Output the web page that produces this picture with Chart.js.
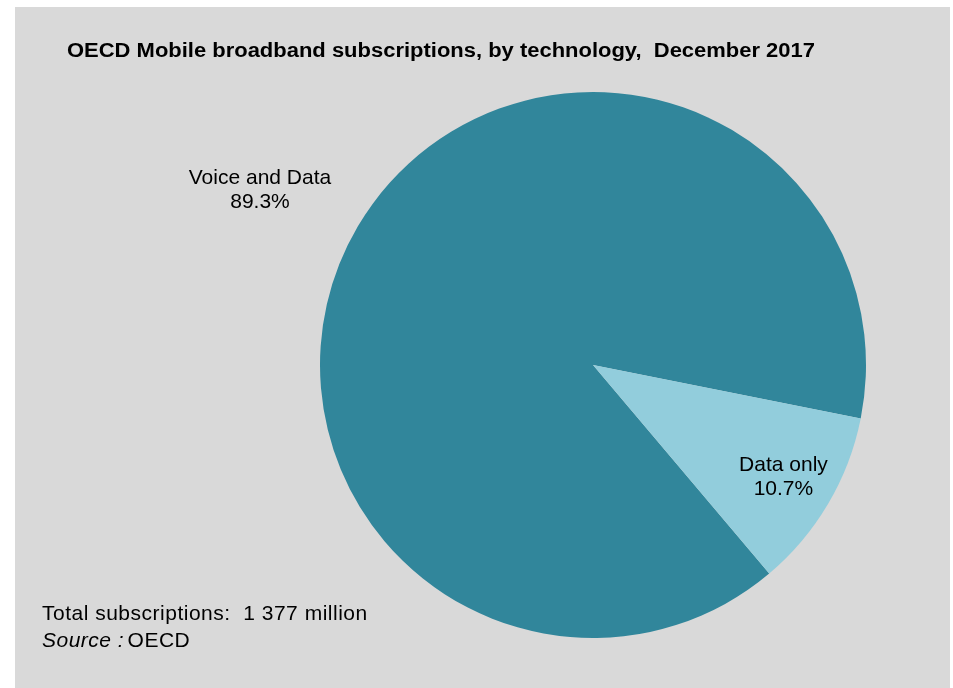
<!DOCTYPE html>
<html>
<head>
<meta charset="utf-8">
<script src="https://cdn.jsdelivr.net/npm/chart.js@4"></script>
<style>
  html, body { margin: 0; padding: 0; background: #fff; }
  #wrap { width: 953px; height: 688px; position: relative; }
</style>
</head>
<body>
<div id="wrap"><canvas id="chart-area" width="953" height="688"></canvas></div>
<script>
var categories = ["Voice and Data", "Data only"];
var shares = [89.3, 10.7];
var sliceColors = ["#31869B", "#92CDDC"];
var titleText = "OECD Mobile broadband subscriptions, by technology,  December 2017";
var noteText = "Total subscriptions:  1 377 million";

// radial position of each label (fraction of radius) and small angular nudge in degrees
var labelRadius = [1.377, 0.81];
var labelNudge = [-2.9, 0];

var backdrop = {
    id: 'backdrop',
    beforeDraw: function(chart) {
        var ctx = chart.ctx;
        ctx.save();
        ctx.fillStyle = "#D9D9D9";
        ctx.fillRect(15, 7, 935, 681);
        ctx.restore();
    },
    afterDraw: function(chart) {
        var ctx = chart.ctx;
        ctx.save();
        // title, squeezed to the original's width
        ctx.fillStyle = "#000";
        ctx.font = "bold 20px 'Liberation Sans', Arial, sans-serif";
        ctx.textBaseline = "alphabetic";
        var w = ctx.measureText(titleText).width;
        var sx = 748 / w;
        ctx.translate(67, 57);
        ctx.scale(sx, 1);
        ctx.fillText(titleText, 0, 0);
        ctx.restore();

        // slice labels
        ctx.save();
        ctx.font = "21px 'Liberation Sans', Arial, sans-serif";
        ctx.fillStyle = "#000";
        ctx.textAlign = "center";
        ctx.textBaseline = "middle";
        var meta = chart.getDatasetMeta(0);
        meta.data.forEach(function(arc, i) {
            var mid = (arc.startAngle + arc.endAngle) / 2 + labelNudge[i] * Math.PI / 180;
            var r = arc.outerRadius * labelRadius[i];
            var x = arc.x + Math.cos(mid) * r;
            var y = arc.y + Math.sin(mid) * r;
            ctx.fillText(categories[i], x, y - 12);
            ctx.fillText(shares[i].toFixed(1) + "%", x, y + 12);
        });
        ctx.restore();

        // note and source
        ctx.save();
        ctx.fillStyle = "#000";
        ctx.textBaseline = "alphabetic";
        ctx.letterSpacing = "0.5px";
        ctx.font = "21px 'Liberation Sans', Arial, sans-serif";
        ctx.fillText(noteText, 42, 620);
        ctx.font = "italic 21px 'Liberation Sans', Arial, sans-serif";
        ctx.fillText("Source :", 42, 647);
        var sw = ctx.measureText("Source : ").width;
        ctx.font = "21px 'Liberation Sans', Arial, sans-serif";
        ctx.fillText("OECD", 42 + sw - 3, 647);
        ctx.restore();
    }
};

var config = {
    type: 'pie',
    data: {
        labels: categories,
        datasets: [{
            data: shares,
            backgroundColor: sliceColors,
            borderWidth: 0
        }]
    },
    options: {
        responsive: false,
        animation: false,
        rotation: 139.8,
        layout: { padding: { top: 92, bottom: 50, left: 320, right: 87 } },
        plugins: {
            legend: { display: false },
            title: { display: false },
            tooltip: { enabled: false }
        }
    },
    plugins: [backdrop]
};

var ctx = document.getElementById("chart-area").getContext("2d");
var pie = new Chart(ctx, config);
</script>
</body>
</html>
